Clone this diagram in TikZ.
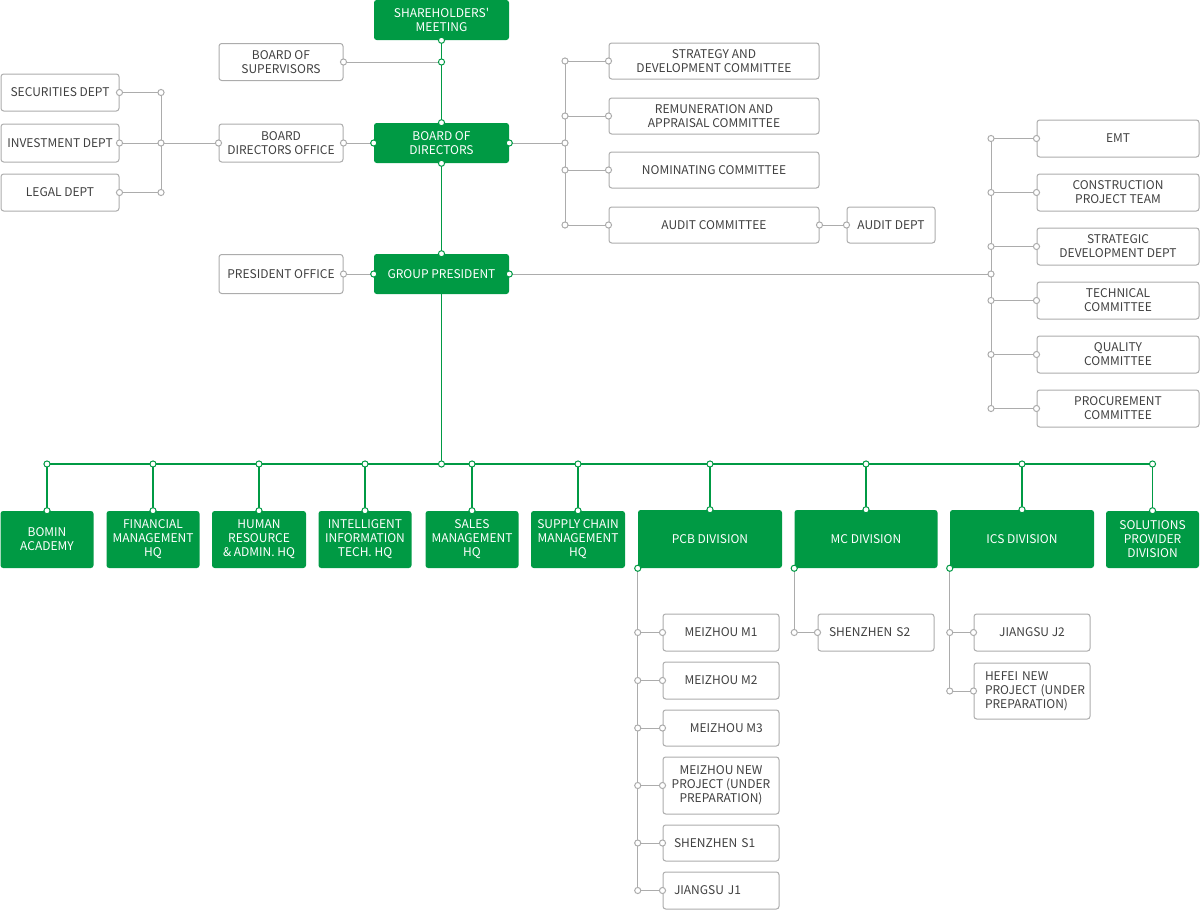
\documentclass[tikz,border=0pt]{standalone}
\usepackage{fontspec}
\setmainfont{Noto Sans CJK SC}[Ligatures=TeXOff]
\definecolor{brand}{RGB}{0,154,68}
\definecolor{rule}{RGB}{172,172,172}
\definecolor{ink}{RGB}{64,64,64}
\begin{document}
\begin{tikzpicture}[x=0.75pt,y=-0.75pt,
  every node/.style={font=\fontsize{9}{10.5}\selectfont, inner sep=0pt, rounded corners=2pt},
  wh/.style 2 args={minimum width=#1*0.75pt, minimum height=#2*0.75pt},
  gbox/.style={fill=brand, text=white, align=center},
  rbox/.style={draw=rule, fill=white, text=ink, line width=0.75pt, align=center},
  lbox/.style={rbox, text width=70.5pt, align=left, execute at begin node={\hyphenpenalty=10000\hbadness=10000\hfuzz=20pt}},
  gline/.style={brand, line width=0.9pt},
  rline/.style={rule, line width=0.75pt},
  gdot/.style={draw=brand, fill=white, line width=0.75pt},
  rdot/.style={draw=rule, fill=white, line width=0.75pt}]
\useasboundingbox (0,0) rectangle (1200,910);

\node[gbox, wh={135}{40}] (share) at (441.5,20) {SHAREHOLDERS'\\MEETING};
\node[gbox, wh={135}{40}] (board) at (441.5,143) {BOARD OF\\DIRECTORS};
\node[gbox, wh={135}{40}] (pres) at (441.5,274) {GROUP PRESIDENT};

\node[rbox, wh={124}{37}] (sup) at (281,62) {BOARD OF\\SUPERVISORS};
\node[rbox, wh={124}{38}] (bdo) at (281,143) {BOARD\\DIRECTORS OFFICE};
\node[rbox, wh={124}{39}] (poff) at (281,274) {PRESIDENT OFFICE};
\node[rbox, wh={118}{37}] (sec) at (60,92.5) {SECURITIES DEPT};
\node[rbox, wh={118}{38}] (inv) at (60,143) {INVESTMENT DEPT};
\node[rbox, wh={118}{37}] (legal) at (60,192.5) {LEGAL DEPT};

\node[rbox, wh={210}{36}] (strat) at (714,61) {STRATEGY AND\\DEVELOPMENT COMMITTEE};
\node[rbox, wh={210}{36}] (remu) at (714,116) {REMUNERATION AND\\APPRAISAL COMMITTEE};
\node[rbox, wh={210}{36}] (nomi) at (714,170) {NOMINATING COMMITTEE};
\node[rbox, wh={210}{36}] (audit) at (714,225) {AUDIT COMMITTEE};
\node[rbox, wh={88}{36}] (adept) at (891,225) {AUDIT DEPT};

\node[rbox, wh={162}{37}] (emt) at (1118,138.5) {EMT};
\node[rbox, wh={162}{37}] (cons) at (1118,192.5) {CONSTRUCTION\\PROJECT TEAM};
\node[rbox, wh={162}{37}] (sdd) at (1118,246.5) {STRATEGIC\\DEVELOPMENT DEPT};
\node[rbox, wh={162}{37}] (tech) at (1118,300.5) {TECHNICAL\\COMMITTEE};
\node[rbox, wh={162}{37}] (qual) at (1118,354.5) {QUALITY\\COMMITTEE};
\node[rbox, wh={162}{37}] (proc) at (1118,408.5) {PROCUREMENT\\COMMITTEE};

\node[gbox, wh={93}{57}] (bomin) at (47,539.5) {BOMIN\\ACADEMY};
\node[gbox, wh={93}{57}] (fin) at (153,539.5) {FINANCIAL\\MANAGEMENT\\HQ};
\node[gbox, wh={94}{57}] (hr) at (259,539.5) {HUMAN\\RESOURCE\\\&~ADMIN. HQ};
\node[gbox, wh={93}{57}] (iit) at (365,539.5) {INTELLIGENT\\INFORMATION\\TECH. HQ};
\node[gbox, wh={93}{57}] (sales) at (472,539.5) {SALES\\MANAGEMENT\\HQ};
\node[gbox, wh={94}{57}] (supply) at (578,539.5) {SUPPLY CHAIN\\MANAGEMENT\\HQ};
\node[gbox, wh={144}{58}] (pcb) at (710,539) {PCB DIVISION};
\node[gbox, wh={143}{58}] (mc) at (866,539) {MC DIVISION};
\node[gbox, wh={144}{58}] (ics) at (1022,539) {ICS DIVISION};
\node[gbox, wh={93}{57}] (sol) at (1152.5,539.5) {SOLUTIONS\\PROVIDER\\DIVISION};

\node[rbox, wh={116}{37}] (m1) at (721,632.5) {MEIZHOU M1};
\node[rbox, wh={116}{37}] (m2) at (721,680.5) {MEIZHOU M2};
\node[rbox, wh={116}{36}] (m3) at (721,728) {\hspace*{8pt}MEIZHOU M3};
\node[rbox, wh={116}{57}] (mnew) at (721,785.5) {MEIZHOU NEW\\PROJECT (UNDER\\PREPARATION)};
\node[lbox, wh={116}{36}] (s1) at (721,843) {SHENZHEN S1};
\node[lbox, wh={116}{37}] (j1) at (721,890.5) {JIANGSU J1};
\node[lbox, wh={116}{37}] (s2) at (876,632.5) {SHENZHEN S2};
\node[rbox, wh={116}{37}] (j2) at (1032,632.5) {JIANGSU J2};
\node[lbox, wh={116}{56}] (hefei) at (1032,691) {HEFEI~NEW\\PROJECT~(UNDER\\PREPARATION)};

\coordinate (j62) at (441.5,62);
\coordinate (lb) at (161,143);
\coordinate (db) at (565,143);
\coordinate (rb) at (991,274);
\coordinate (trunk) at (441.5,464);

\draw[rline] (sup.east) -- (j62);
\draw[rline] (sec.east) -- (sec.east -| lb) -- (legal.east -| lb) -- (legal.east);
\draw[rline] (inv.east) -- (bdo.west);
\draw[rline] (bdo.east) -- (board.west);
\draw[rline] (board.east) -- (db);
\draw[rline] (strat.west -| db) -- (audit.west -| db);
\foreach \c in {strat,remu,nomi,audit}
  \draw[rline] (\c.west -| db) -- (\c.west);
\draw[rline] (audit.east) -- (adept.west);
\draw[rline] (poff.east) -- (pres.west);
\draw[rline] (pres.east) -- (rb);
\draw[rline] (emt.west -| rb) -- (proc.west -| rb);
\foreach \c in {emt,cons,sdd,tech,qual,proc}
  \draw[rline] (\c.west -| rb) -- (\c.west);
\draw[rline] (pcb.south west) -- (pcb.south west |- j1.west);
\foreach \c in {m1,m2,m3,mnew,s1,j1}
  \draw[rline] (\c.west -| pcb.south west) -- (\c.west);
\draw[rline] (mc.south west) -- (mc.south west |- s2.west) -- (s2.west);
\draw[rline] (ics.south west) -- (ics.south west |- hefei.west) -- (hefei.west);
\draw[rline] (j2.west -| ics.south west) -- (j2.west);

\draw[gline] (share.south) -- (board.north);
\draw[gline] (board.south) -- (pres.north);
\draw[gline] (pres.south) -- (trunk);
\draw[gline] (bomin.north |- trunk) -- (sol.north |- trunk);
\foreach \c in {bomin,fin,hr,iit,sales,supply,pcb,mc,ics,sol}
  \draw[gline] (\c.north |- trunk) -- (\c.north);

\foreach \p in {sup.east, bdo.west, bdo.east, sec.east, inv.east, legal.east, lb, sec.east -| lb, legal.east -| lb,
    poff.east, db, strat.west -| db, remu.west -| db, nomi.west -| db, audit.west -| db, audit.east, adept.west, rb,
    j2.west, hefei.west, s2.west, j2.west -| ics.south west, hefei.west -| ics.south west, s2.west -| mc.south west}
  \draw[rdot] (\p) circle (2.3pt);
\foreach \c in {strat,remu,nomi,audit,emt,cons,sdd,tech,qual,proc}
  \draw[rdot] (\c.west) circle (2.3pt);
\foreach \c in {emt,cons,sdd,tech,qual,proc}
  \draw[rdot] (\c.west -| rb) circle (2.3pt);
\foreach \c in {m1,m2,m3,mnew,s1,j1}
  \draw[rdot] (\c.west) circle (2.3pt) (\c.west -| pcb.south west) circle (2.3pt);
\foreach \p in {share.south, j62, board.north, board.west, board.east, board.south, pres.north, pres.west, pres.east,
    trunk, pcb.south west, mc.south west, ics.south west}
  \draw[gdot] (\p) circle (2.3pt);
\foreach \c in {bomin,fin,hr,iit,sales,supply,pcb,mc,ics,sol}
  \draw[gdot] (\c.north) circle (2.3pt) (\c.north |- trunk) circle (2.3pt);
\end{tikzpicture}
\end{document}
